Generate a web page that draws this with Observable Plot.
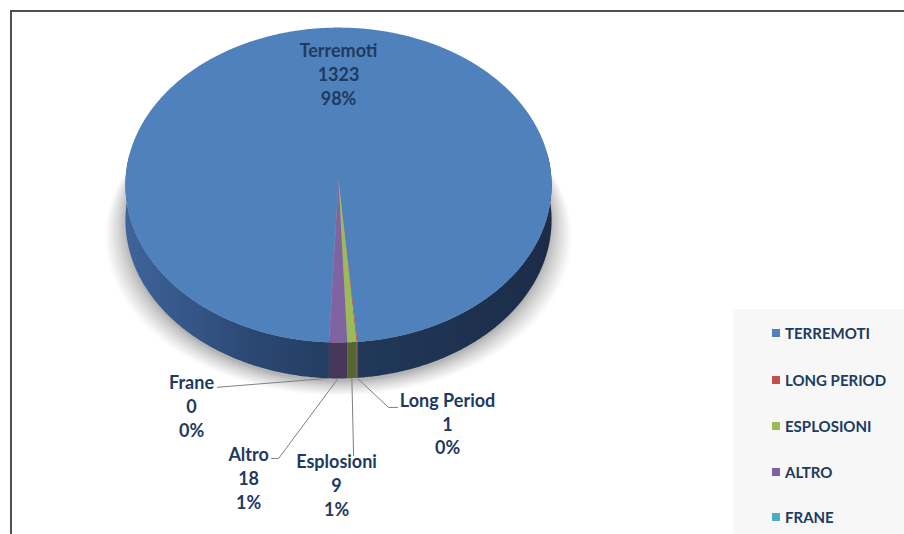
<!DOCTYPE html>
<html>
<head>
<meta charset="utf-8">
<script src="https://cdn.jsdelivr.net/npm/d3@7"></script>
<script src="https://cdn.jsdelivr.net/npm/@observablehq/plot@0.6"></script>
<style>
  html, body { margin: 0; padding: 0; background: #ffffff; }
  #wrap { position: relative; width: 904px; height: 534px; overflow: hidden; font-family: Lato, "Open Sans", sans-serif; }
  #chart { position: absolute; left: 0; top: 0; }
  #frame { position: absolute; left: 10px; top: 10px; width: 920px; height: 560px; border-top: 2px solid #505050; border-left: 2px solid #505050; pointer-events: none; }
  #legend { position: absolute; left: 733px; top: 309px; width: 200px; height: 260px; background: #f7f7f7; }
  .item { position: absolute; left: 39px; height: 20px; display: flex; align-items: center; font-weight: 700; font-size: 15px; color: #203a60; white-space: nowrap; }
  .sw { width: 8px; height: 8px; margin-right: 5px; flex: none; }
</style>
</head>
<body>
<div id="wrap">
  <div id="chart"></div>
  <div id="legend"></div>
  <div id="frame"></div>
</div>
<script>
// ---- data ----
const categories = ["Terremoti", "Long Period", "Esplosioni", "Altro", "Frane"];
const counts = [1323, 1, 9, 18, 0];
const legendLabels = ["TERREMOTI", "LONG PERIOD", "ESPLOSIONI", "ALTRO", "FRANE"];
const sliceColors = ["#4f81bd", "#c0504d", "#9bbb59", "#8064a2", "#4bacc6"];

// ---- layout (pixel offsets of labels / leader elbows from each slice's anchor) ----
const labelTextOffset = [[0, -107], [90.6, 45], [-15.3, 106.4], [-89.5, 99], [-137.4, 27]];
const labelLeaderOffset = [null, [[31.6, 29.6], [40.6, 29.6]], [[1.7, 77.4]], [[-59.5, 80], [-66.5, 80]], [[-111.4, 9]]];

// ---- 3D projection of the pie (unit radius) ----
const R = 213;                 // pixels per unit
const START = 182.5;           // first slice angle, degrees clockwise from 12 o'clock
const P = 0.0287;              // perspective
const TILT = 157.3 / R;        // vertical squash
const DEPTH = 36 / R;          // thickness
const rad = Math.PI / 180;
function proj(deg, drop = 0) {
  const t = deg * rad, X = Math.sin(t), Z = Math.cos(t), w = 1 + P * Z;
  return [X / w, (TILT * Z) / w - drop * (1 - P) / w];
}
function arcPts(a0, a1, drop) {
  const n = Math.max(2, Math.ceil(Math.abs(a1 - a0) / 0.5));
  return d3.range(n + 1).map(i => proj(a0 + (a1 - a0) * i / n, drop));
}

const total = d3.sum(counts);
const arcs = d3.pie().sort(null).value(d => d)
  .startAngle(START * rad).endAngle((START + 360) * rad)(counts);
const slices = arcs.map((a, i) => ({
  i, name: categories[i], value: counts[i],
  pct: Math.round(counts[i] / total * 100) + "%",
  a0: a.startAngle / rad, a1: a.endAngle / rad, color: sliceColors[i]
}));

// top faces
const topPts = [];
slices.filter(s => s.value > 0).forEach(s => {
  const pts = [[0, 0], ...arcPts(s.a0, s.a1, 0), [0, 0]];
  pts.forEach(p => topPts.push({x: p[0], y: p[1], id: "t" + s.i, fill: s.color}));
});

// side walls (front-facing part only)
const sidePts = [];
const visible = [[80, 280], [440, 640]];
slices.filter(s => s.value > 0).forEach(s => {
  visible.forEach(([v0, v1], k) => {
    const b0 = Math.max(s.a0, v0), b1 = Math.min(s.a1, v1);
    if (b1 <= b0) return;
    const pts = [...arcPts(b0, b1, 0), ...arcPts(b1, b0, DEPTH)];
    const fill = s.i === 0 ? "url(#sideGrad)" : d3.color(s.color).darker(1.7).formatHex();
    pts.forEach(p => sidePts.push({x: p[0], y: p[1], id: "s" + s.i + "_" + k, fill}));
  });
});

// soft shadow: stacked opaque layers, lightest and widest first
const shadowPts = [];
const LAYERS = 12;
const shadeOf = d3.interpolateRgb("#b4b4b4", "#fcfcfc");
for (let k = 0; k < LAYERS; k++) {
  const t = 1 - k / (LAYERS - 1);
  const sx = 1 + 0.095 * t, dy = 0.015 + 0.065 * t;
  const fill = shadeOf(Math.pow(t, 0.8));
  arcPts(70, 290, DEPTH).forEach(p => shadowPts.push({x: p[0] * sx, y: p[1] - dy, id: "sh" + k, fill}));
}

// labels and leaders
const px = ([dx, dy], base) => [base[0] + dx / R, base[1] - dy / R];
const labels = [], leaders = [];
slices.forEach(s => {
  const mid = (s.a0 + s.a1) / 2;
  const anchor = s.i === 0 ? [0, 0] : proj(mid, DEPTH);
  const t = px(labelTextOffset[s.i], anchor);
  labels.push({x: t[0], y: t[1], text: `${s.name}\n${s.value}\n${s.pct}`});
  if (labelLeaderOffset[s.i]) {
    [anchor, ...labelLeaderOffset[s.i].map(o => px(o, anchor))]
      .forEach(p => leaders.push({x: p[0], y: p[1], id: s.name}));
  }
});

const chart = Plot.plot({
  width: 904, height: 534,
  marginTop: 0, marginRight: 0, marginBottom: 0, marginLeft: 0,
  x: {domain: [-1, 1], range: [125, 551], axis: null},
  y: {domain: [-1, 1], range: [393, -33], axis: null},
  color: {type: "identity"},
  style: {background: "transparent", overflow: "visible"},
  marks: [
    Plot.line(shadowPts, {x: "x", y: "y", z: "id", fill: "fill", stroke: "none"}),
    Plot.line(sidePts, {x: "x", y: "y", z: "id", fill: "fill", stroke: "none"}),
    Plot.line(topPts, {x: "x", y: "y", z: "id", fill: "fill", stroke: "none"}),
    Plot.line(leaders, {x: "x", y: "y", z: "id", stroke: "#7f7f7f", strokeWidth: 1}),
    Plot.text(labels, {x: "x", y: "y", text: "text", fill: "#1f3a5f", fontSize: 18, fontWeight: 700,
      fontFamily: "Lato, 'Open Sans', sans-serif", lineHeight: 1.33, lineAnchor: "middle", textAnchor: "middle"})
  ]
});

const svg = d3.select(chart);
const defs = svg.insert("defs", ":first-child");
const g = defs.append("linearGradient").attr("id", "sideGrad")
  .attr("gradientUnits", "userSpaceOnUse").attr("x1", 125).attr("x2", 551).attr("y1", 0).attr("y2", 0);
[[0, "#3e649b"], [0.3, "#2b4873"], [0.55, "#213859"], [1, "#1b2c48"]]
  .forEach(([o, c]) => g.append("stop").attr("offset", o).attr("stop-color", c));

document.getElementById("chart").appendChild(chart);

// legend
const legend = d3.select("#legend");
const rowTop = [14, 61, 107, 153, 198];
legendLabels.forEach((lab, i) => {
  const it = legend.append("div").attr("class", "item").style("top", rowTop[i] + "px");
  it.append("div").attr("class", "sw").style("background", sliceColors[i]);
  it.append("span").text(lab);
});
</script>
</body>
</html>
